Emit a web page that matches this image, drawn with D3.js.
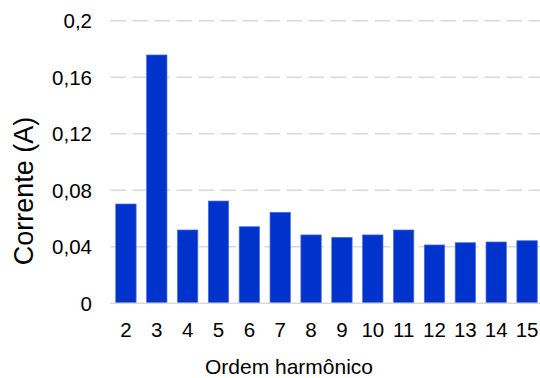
<!DOCTYPE html>
<html><head><meta charset="utf-8">
<script src="https://cdn.jsdelivr.net/npm/d3@7"></script>
<style>body{margin:0;background:#fff}svg{display:block}</style>
</head><body>
<script>
const categories = ["2","3","4","5","6","7","8","9","10","11","12","13","14","15"];
const values = [0.0703,0.1758,0.0519,0.0724,0.0542,0.0644,0.0484,0.0467,0.0484,0.0519,0.0413,0.0429,0.0434,0.0443];
const yTicks = [0,0.04,0.08,0.12,0.16,0.2];
const yTickLabels = ["0","0,04","0,08","0,12","0,16","0,2"];
const xTitle = "Ordem harmônico";
const yTitle = "Corrente (A)";

const W=540,H=378;
const svg=d3.select("body").append("svg").attr("width",W).attr("height",H);
const font="Liberation Sans, Arial, sans-serif";
const x=d3.scaleBand().domain(categories).range([110.5,542.5]).paddingInner(0.34).paddingOuter(0.17);
const y=d3.scaleLinear().domain([0,0.2]).range([303.3,20.8]);

// gridlines
svg.append("g").selectAll("line").data(yTicks.slice(1)).join("line")
  .attr("x1",110.5).attr("x2",W).attr("y1",d=>y(d)).attr("y2",d=>y(d))
  .attr("stroke","#d9d9d9").attr("stroke-width",1.4).attr("stroke-dasharray","15.7,6.3");

// bars
svg.append("g").selectAll("rect").data(values).join("rect")
  .attr("x",(d,i)=>x(categories[i])).attr("width",x.bandwidth())
  .attr("y",d=>y(d)).attr("height",d=>y(0)-y(d))
  .attr("fill","#0033cc").attr("stroke","#4a6ee0").attr("stroke-width",0.7);

// baseline
svg.append("line").attr("x1",110.5).attr("x2",W).attr("y1",y(0)).attr("y2",y(0))
  .attr("stroke","#d9d9d9").attr("stroke-width",1.5);

// y axis labels
const yAxis=d3.axisLeft(y).tickValues(yTicks).tickFormat((d,i)=>yTickLabels[i]).tickSize(0).tickPadding(0);
const ga=svg.append("g").attr("transform","translate(92,0)").call(yAxis);
ga.select(".domain").remove();
ga.selectAll("text").attr("font-family",font).attr("font-size",20.5).attr("fill","#000").attr("dy","0.35em");

// x axis labels
const xAxis=d3.axisBottom(x).tickSize(0).tickPadding(0);
const gx=svg.append("g").attr("transform","translate(0,322)").call(xAxis);
gx.select(".domain").remove();
gx.selectAll("text").attr("font-family",font).attr("font-size",20.5).attr("fill","#000").attr("dy","0.71em");

svg.append("text").attr("x",289).attr("y",374).attr("text-anchor","middle")
  .attr("font-family",font).attr("font-size",21).attr("fill","#000").text(xTitle);
svg.append("text").attr("transform","translate(33,191) rotate(-90)").attr("text-anchor","middle")
  .attr("font-family",font).attr("font-size",27).attr("fill","#000").text(yTitle);
</script>
</body></html>
